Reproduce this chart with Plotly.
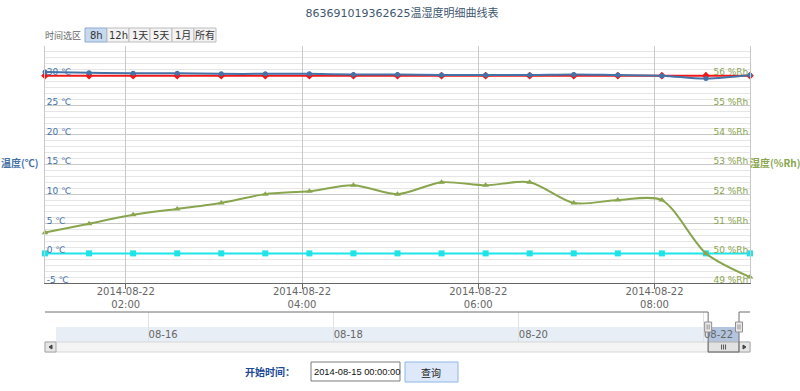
import plotly.graph_objects as go
from datetime import datetime

# ---------------- data ----------------
TIMES = ["2014-08-22 01:05", "2014-08-22 01:35", "2014-08-22 02:05", "2014-08-22 02:35",
         "2014-08-22 03:05", "2014-08-22 03:35", "2014-08-22 04:05", "2014-08-22 04:35",
         "2014-08-22 05:05", "2014-08-22 05:35", "2014-08-22 06:05", "2014-08-22 06:35",
         "2014-08-22 07:05", "2014-08-22 07:35", "2014-08-22 08:05", "2014-08-22 08:35",
         "2014-08-22 09:05"]
TEMP_BLUE = [30.6, 30.5, 30.4, 30.4, 30.3, 30.3, 30.3, 30.2, 30.2, 30.1, 30.1, 30.1,
             30.2, 30.1, 30.0, 29.5, 30.1]
TEMP_RED = [30.0, 30.0, 30.0, 30.0, 30.0, 30.0, 30.0, 30.0, 30.0, 30.0, 30.0, 30.0,
            30.0, 30.0, 30.0, 30.0, 30.0]
HUM_GREEN = [50.7, 51.0, 51.3, 51.5, 51.7, 52.0, 52.1, 52.3, 52.0, 52.4, 52.3, 52.4,
             51.7, 51.8, 51.8, 50.0, 49.2]
HUM_CYAN = [50.0, 50.0, 50.0, 50.0, 50.0, 50.0, 50.0, 50.0, 50.0, 50.0, 50.0, 50.0,
            50.0, 50.0, 50.0, 50.0, 50.0]

TEMP_TICKS = [-5, 0, 5, 10, 15, 20, 25, 30, 35]
TEMP_LABELS = ["-5 ℃", "0 ℃", "5 ℃", "10 ℃", "15 ℃", "20 ℃", "25 ℃", "30 ℃", ""]
HUM_TICKS = [49, 50, 51, 52, 53, 54, 55, 56]
HUM_LABELS = ["49 %Rh", "50 %Rh", "51 %Rh", "52 %Rh", "53 %Rh", "54 %Rh", "55 %Rh", "56 %Rh"]
X_TICKS = ["2014-08-22 02:00", "2014-08-22 04:00", "2014-08-22 06:00", "2014-08-22 08:00"]
X_LABELS = ["2014-08-22<br>02:00", "2014-08-22<br>04:00", "2014-08-22<br>06:00", "2014-08-22<br>08:00"]
NAV_TICKS = ["2014-08-16", "2014-08-18", "2014-08-20", "2014-08-22"]
NAV_LABELS = ["08-16", "08-18", "08-20", "08-22"]
RANGE_BUTTONS = ["8h", "12h", "1天", "5天", "1月", "所有"]

TITLE = "863691019362625温湿度明细曲线表"
VIEW_START, VIEW_END = "2014-08-22 01:05", "2014-08-22 09:05"
NAV_START, NAV_END = "2014-08-15 00:00", "2014-08-22 09:05"
START_TEXT = "2014-08-15 00:00:00"

# ---------------- layout helpers (pixel -> paper) ----------------
W, H = 800, 391
ML, MR, MT, MB = 45, 50, 46, 0
PW, PH = W - ML - MR, H - MT - MB


def px(x):
    return (x - ML) / PW


def py(y):
    return (H - MB - y) / PH


NAV_L, NAV_R = 56, 739


def nav_px(d):
    fmt = "%Y-%m-%d %H:%M"
    t0 = datetime.strptime(NAV_START, fmt)
    t1 = datetime.strptime(NAV_END, fmt)
    t = datetime.strptime(d, fmt)
    return NAV_L + (t - t0).total_seconds() / (t1 - t0).total_seconds() * (NAV_R - NAV_L)


BLUE = "#4572A7"
GREEN = "#89A54E"
TICKFONT = "DejaVu Sans"
CJK = "Noto Sans CJK SC"

fig = go.Figure()
fig.add_trace(go.Scatter(x=TIMES, y=TEMP_RED, mode="lines+markers", yaxis="y", xaxis="x",
                         line=dict(color="#F01818", width=2),
                         marker=dict(symbol="diamond", size=6, color="#F01818"), cliponaxis=False))
fig.add_trace(go.Scatter(x=TIMES, y=TEMP_BLUE, mode="lines+markers", yaxis="y", xaxis="x",
                         line=dict(color=BLUE, width=2, shape="spline"),
                         marker=dict(symbol="circle", size=5, color=BLUE), cliponaxis=False))
fig.add_trace(go.Scatter(x=TIMES, y=HUM_CYAN, mode="lines+markers", yaxis="y2", xaxis="x",
                         line=dict(color="#1EE3E8", width=2),
                         marker=dict(symbol="square", size=6, color="#1EE3E8"), cliponaxis=False))
fig.add_trace(go.Scatter(x=TIMES, y=HUM_GREEN, mode="lines+markers", yaxis="y2", xaxis="x",
                         line=dict(color=GREEN, width=2, shape="spline", smoothing=0.8),
                         marker=dict(symbol="triangle-up", size=6, color=GREEN), cliponaxis=False))

shapes = []
annotations = []


def label(text, x, y, size=10, color="#333", family=CJK, xanchor="center"):
    annotations.append(dict(text=text, xref="paper", yref="paper", x=px(x), y=py(y),
                            xanchor=xanchor, yanchor="middle", showarrow=False,
                            font=dict(family=family, size=size, color=color)))


def rect(x0, y0, x1, y1, fill, line_color, width=1, **kw):
    shapes.append(dict(type="rect", xref="paper", yref="paper", x0=px(x0), x1=px(x1),
                       y0=py(y1), y1=py(y0), fillcolor=fill,
                       line=dict(color=line_color, width=width), **kw))


def seg(x0, y0, x1, y1, color, width=1):
    shapes.append(dict(type="line", xref="paper", yref="paper", x0=px(x0), x1=px(x1),
                       y0=py(y0), y1=py(y1), line=dict(color=color, width=width)))


# navigator band + selected region (in navigator axis coordinates)
shapes.append(dict(type="rect", xref="x2", yref="paper", x0=NAV_START, x1=NAV_END,
                   y0=py(342), y1=py(327), fillcolor="#E8EEF6", line=dict(width=0), layer="below"))
shapes.append(dict(type="rect", xref="x2", yref="paper", x0=VIEW_START, x1=VIEW_END,
                   y0=py(342), y1=py(327), fillcolor="#B3C5DE", line=dict(width=0), layer="below"))

selL, selR = nav_px(VIEW_START), nav_px(VIEW_END)

# scrollbar track + thumb
rect(45, 342, 750, 352, "#F4F4F4", "#D6D6D6")
rect(selL, 342, selR, 352, "#E2E2E2", "#A8A8A8")
cx = (selL + selR) / 2
for dx in (-2, 0, 2):
    seg(cx + dx, 344.5, cx + dx, 349.5, "#555")
# scrollbar buttons with arrows
for (a, b, pts) in [(45, 56, [(52, 345), (49, 347), (52, 349)]),
                    (739, 750, [(743, 345), (746, 347), (743, 349)])]:
    rect(a, 342, b, 352, "#E6E6E6", "#A8A8A8")
    path = "M {} {} L {} {} L {} {} Z".format(*[v for p_ in pts for v in (px(p_[0]), py(p_[1]))])
    shapes.append(dict(type="path", xref="paper", yref="paper", path=path, fillcolor="#444",
                       line=dict(color="#444", width=1)))
# navigator outline
outline = [(45, 312), (selL, 312), (selL, 352), (selR, 352), (selR, 312), (750, 312)]
path = "M " + " L ".join("{} {}".format(px(a), py(b)) for a, b in outline)
shapes.append(dict(type="path", xref="paper", yref="paper", path=path, line=dict(color="#6E6E6E", width=1)))
# handles
for hx in (selL, selR):
    rect(hx - 3.5, 322, hx + 3.5, 332, "#ECE8E9", "#909090")
    for dx in (-1, 1):
        seg(hx + dx, 324.5, hx + dx, 329.5, "#909090")

# range selector label + buttons
label("时间选区", 62.5, 35.5, size=9, color="#666")
edges = [85, 107, 129, 150, 172, 194, 216]
for i, lab in enumerate(RANGE_BUTTONS):
    active = i == 0
    rect(edges[i], 28, edges[i + 1], 42, "#C6D9EF" if active else "#F3F3F3",
         "#8EA9CF" if active else "#BDBDBD")
    label(lab, (edges[i] + edges[i + 1]) / 2, 35, size=10, color="#333", family=TICKFONT + ", " + CJK)

# axis titles
label("<b>温度(℃)</b>", 20, 162.5, size=10, color=BLUE)
label("<b>湿度(%Rh)</b>", 775, 162, size=10, color=GREEN)

# bottom query controls
label("<b>开始时间：</b>", 270, 371, size=10, color="#1A4A98")
rect(311, 362, 400, 381, "white", "#7A7A7A")
label(START_TEXT, 312, 372, size=9.3, color="#111", family="Liberation Sans", xanchor="left")
rect(405, 362, 458, 382, "#DDE9F8", "#8FB6E8")
label("查询", 431.5, 372, size=10, color="#222")

fig.update_layout(
    template="none",
    width=W, height=H,
    margin=dict(l=ML, r=MR, t=MT, b=MB, pad=0),
    paper_bgcolor="white", plot_bgcolor="white",
    showlegend=False,
    title=dict(text=TITLE, x=402 / W, xref="container", xanchor="center",
               y=1 - 13.5 / H, yref="container", yanchor="middle",
               font=dict(family=TICKFONT + ", " + CJK, size=11, color="#3E576F")),
    xaxis=dict(domain=[0, 1], anchor="y", type="date", range=[VIEW_START, VIEW_END],
               tickmode="array", tickvals=X_TICKS, ticktext=X_LABELS,
               tickfont=dict(family=TICKFONT, size=10, color="#666"),
               ticklabelstandoff=-6,
               showgrid=True, gridcolor="#C8C8C8", gridwidth=1,
               ticks="outside", ticklen=5, tickcolor="#666",
               showline=True, linecolor="#666", linewidth=1, zeroline=False,
               automargin=False, fixedrange=True),
    yaxis=dict(domain=[py(283), 1], anchor="x", range=[-5, 35],
               tickmode="array", tickvals=TEMP_TICKS, ticktext=TEMP_LABELS,
               ticklabelposition="inside top", ticklabelshift=3, ticklabeloverflow="allow",
               tickfont=dict(family=TICKFONT, size=9, color=BLUE),
               showgrid=True, gridcolor="#C8C8C8", gridwidth=1,
               minor=dict(tickmode="linear", tick0=0, dtick=1, showgrid=True, gridcolor="#E6E6E6", ticks=""),
               ticks="", showline=True, linecolor="#C8C8C8", zeroline=False,
               automargin=False, fixedrange=True),
    yaxis2=dict(overlaying="y", side="right", anchor="x", range=[49, 57],
                tickmode="array", tickvals=HUM_TICKS, ticktext=HUM_LABELS,
                ticklabelposition="inside top", ticklabelshift=3, ticklabeloverflow="allow",
                tickfont=dict(family=TICKFONT, size=9, color=GREEN),
                showgrid=False, ticks="", showline=True, linecolor="#C8C8C8", zeroline=False,
                automargin=False, fixedrange=True),
    xaxis2=dict(domain=[px(NAV_L), px(NAV_R)], anchor="y3", type="date", range=[NAV_START, NAV_END],
                tickmode="array", tickvals=NAV_TICKS, ticktext=NAV_LABELS,
                ticklabelposition="inside right", ticklabelstandoff=-4,
                tickfont=dict(family=TICKFONT, size=10, color="#666"),
                showgrid=True, gridcolor="#E2E2E2", ticks="", showline=False, zeroline=False,
                automargin=False, fixedrange=True),
    yaxis3=dict(domain=[py(342), py(312)], anchor="x2", range=[0, 1], visible=False,
                showgrid=False, zeroline=False, fixedrange=True),
    shapes=shapes,
    annotations=annotations,
)

fig.write_html("out.html", config={"displayModeBar": False},
               post_script="document.body.style.margin='0px';document.body.style.overflow='hidden';")
